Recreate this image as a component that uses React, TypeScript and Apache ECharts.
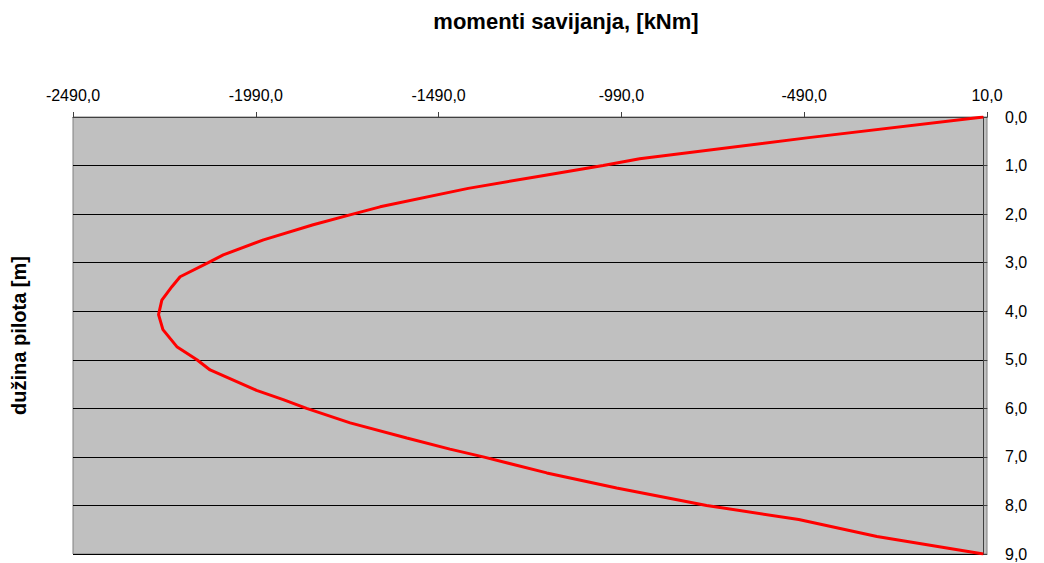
import React, { useEffect, useRef } from "react";
import * as echarts from "echarts";

const depth = [0, 0.43, 0.86, 1.0, 1.23, 1.47, 1.85, 2.0, 2.22, 2.53, 2.84, 3.0, 3.29, 3.49, 3.77, 4.07, 4.38, 4.73, 5.0, 5.21, 5.63, 5.82, 6.0, 6.3, 6.61, 6.84, 7.0, 7.33, 7.64, 8.0, 8.29, 8.64, 9.0];
const moment = [0, -483, -940, -1040, -1222, -1409, -1650, -1725, -1833, -1969, -2079, -2120, -2197, -2219, -2247, -2256, -2244, -2206, -2151, -2115, -1988, -1915, -1851, -1732, -1577, -1459, -1368, -1194, -1003, -757, -505, -291, 0];
const xTicks = [-2490, -1990, -1490, -990, -490, 10];

const FONT = "'Liberation Sans', Arial, sans-serif";
const fmt = (v: number) => v.toFixed(1).replace(".", ",");

export default function App() {
  const ref = useRef<HTMLDivElement>(null);
  useEffect(() => {
    if (!ref.current) return;
    const chart = echarts.init(ref.current, undefined, { renderer: "svg" });
    chart.setOption({
      animation: false,
      backgroundColor: "#ffffff",
      title: {
        text: "momenti savijanja, [kNm]",
        left: 566,
        top: 10,
        textAlign: "center",
        padding: 0,
        textStyle: { fontFamily: FONT, fontSize: 22, fontWeight: "bold", color: "#000" },
      },
      grid: {
        left: 73,
        right: 57,
        top: 117,
        bottom: 9,
        show: true,
        backgroundColor: "#C0C0C0",
        borderColor: "#808080",
        borderWidth: 1,
      },
      xAxis: {
        type: "value",
        position: "top",
        min: -2490,
        max: 10,
        axisLine: { show: true, lineStyle: { color: "#404040", width: 1 } },
        axisTick: { show: true, length: 5, inside: false, customValues: xTicks, lineStyle: { color: "#404040" } },
        axisLabel: {
          customValues: xTicks,
          formatter: (v: number) => fmt(v),
          fontFamily: FONT,
          fontSize: 16,
          color: "#000",
          margin: 14,
        },
        splitLine: { show: false },
      },
      yAxis: [
        {
          type: "value",
          position: "right",
          inverse: true,
          min: 0,
          max: 9,
          interval: 1,
          axisLine: { show: true, lineStyle: { color: "#404040", width: 1 } },
          axisTick: { show: true, length: 4, inside: false, lineStyle: { color: "#404040" } },
          axisLabel: {
            formatter: (v: number) => fmt(v),
            fontFamily: FONT,
            fontSize: 16,
            color: "#000",
            margin: 18,
          },
          splitLine: { show: true, lineStyle: { color: "#000000", width: 1 } },
        },
        {
          type: "value",
          position: "left",
          inverse: true,
          min: 0,
          max: 9,
          interval: 1,
          name: "dužina pilota [m]",
          nameLocation: "middle",
          nameRotate: 90,
          nameGap: 44,
          nameTextStyle: { fontFamily: FONT, fontSize: 20, fontWeight: "bold", color: "#000" },
          axisLine: { show: false },
          axisTick: { show: false },
          axisLabel: { show: false },
          splitLine: { show: false },
        },
      ],
      series: [
        {
          type: "line",
          yAxisIndex: 0,
          data: depth.map((d, i) => [moment[i], d]),
          showSymbol: false,
          symbol: "none",
          lineStyle: { color: "#FF0000", width: 3 },
          smooth: false,
        },
      ],
    });
    return () => chart.dispose();
  }, []);
  return <div ref={ref} style={{ position: "fixed", left: 0, top: 0, width: 1044, height: 563 }} />;
}
